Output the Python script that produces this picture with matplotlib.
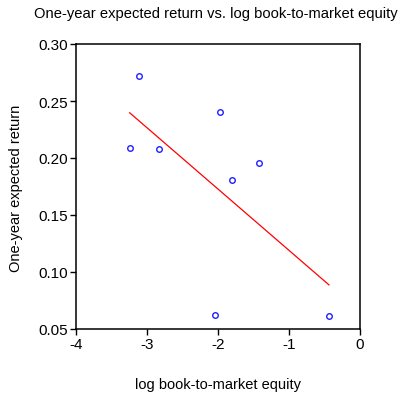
import matplotlib.pyplot as plt
import numpy as np

plt.rcParams['font.family'] = ['Liberation Sans', 'DejaVu Sans']

# log book-to-market equity vs. one-year expected return
log_bm = [-3.113, -3.244, -2.831, -1.972, -1.799, -1.427, -2.038, -0.437]
exp_ret = [0.272, 0.2086, 0.208, 0.240, 0.181, 0.1953, 0.0625, 0.061]

x_ticks = [-4, -3, -2, -1, 0]
y_ticks = [0.05, 0.10, 0.15, 0.20, 0.25, 0.30]

fig = plt.figure(figsize=(4.06, 4.02), dpi=100)
ax = fig.add_axes([76 / 406, 72 / 402, 284 / 406, 285 / 402])

ax.plot(log_bm, exp_ret, 'o', mfc='none', mec='#1f1fff', ms=4, mew=1.0)

# least-squares fit over the range of the data
slope, intercept = np.polyfit(log_bm, exp_ret, 1)
xs = np.array([min(log_bm), max(log_bm)])
ax.plot(xs, slope * xs + intercept, color='red', linewidth=0.9)

ax.set_xlim(-4, 0)
ax.set_ylim(0.05, 0.30)
ax.set_xticks(x_ticks)
ax.set_xticklabels([str(t) for t in x_ticks])
ax.set_yticks(y_ticks)
ax.set_yticklabels([f'{t:.2f}' for t in y_ticks])
ax.tick_params(direction='out', length=4, width=1, labelsize=11, pad=2)
for s in ax.spines.values():
    s.set_linewidth(1.1)

fig.text(218 / 406, 1 - 385 / 402, 'log book-to-market equity',
         ha='center', va='center', fontsize=10.5)
fig.text(16 / 406, 1 - 188 / 402, 'One-year expected return',
         ha='center', va='center', rotation=90, fontsize=10.5)
fig.text(216 / 406, 1 - 14 / 402, 'One-year expected return vs. log book-to-market equity',
         ha='center', va='center', fontsize=10.6)

fig.savefig('out.png', dpi=100)
